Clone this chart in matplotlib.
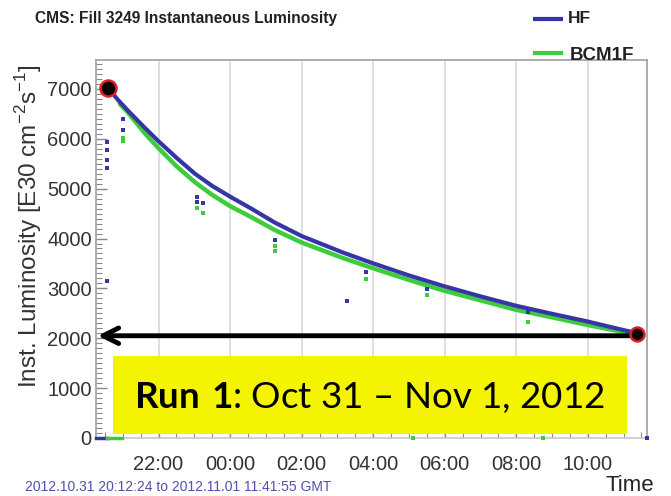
import numpy as np
import pandas as pd
import matplotlib
matplotlib.use('Agg')
import matplotlib.pyplot as plt
import matplotlib.dates as mdates
from matplotlib.lines import Line2D
from matplotlib.patches import Rectangle

plt.rcParams['mathtext.fontset'] = 'custom'
plt.rcParams['mathtext.rm'] = 'Liberation Sans'
plt.rcParams['mathtext.bf'] = 'Lato:bold'

# valori (ora GMT, luminosita' in E30 cm^-2 s^-1)
hf_ore = ['20:35', '20:52', '21:09', '21:37', '22:00', '22:31', '23:01', '23:30', '00:00', '00:37', '01:15',
          '02:00', '03:09', '03:58', '05:00', '05:57', '07:00', '08:00', '09:00', '09:58', '10:40', '11:23']
hf_lumi = [7020, 6780, 6560, 6220, 5950, 5610, 5300, 5055, 4840, 4590, 4320,
           4050, 3720, 3510, 3260, 3050, 2840, 2650, 2490, 2340, 2220, 2100]

bcm_ore = ['20:55', '21:09', '21:37', '22:00', '22:31', '23:01', '23:30', '00:00', '00:37', '01:15',
           '02:00', '03:09', '03:58', '05:00', '05:57', '07:00', '08:00', '09:00', '09:58', '10:40', '11:23']
bcm_lumi = [6700, 6520, 6110, 5810, 5440, 5130, 4875, 4650, 4420, 4170,
            3920, 3610, 3410, 3170, 2960, 2760, 2570, 2420, 2270, 2170, 2080]

# punti sparsi
hf_punti_ore = ['20:34', '20:34', '20:33', '20:34', '20:33', '21:00', '21:00', '23:05', '23:05', '23:14',
                '01:15', '03:16', '03:48', '05:30', '08:19', '11:39']
hf_punti_lumi = [5940, 5780, 5580, 5420, 3140, 6400, 6180, 4840, 4740, 4720,
                 3980, 2740, 3320, 2980, 2520, 0]
bcm_punti_ore = ['21:00', '21:00', '23:05', '23:14', '01:15', '01:15', '03:48', '05:30', '08:19', '05:07', '08:44']
bcm_punti_lumi = [6020, 5960, 4620, 4520, 3840, 3740, 3180, 2860, 2320, 0, 0]

# tratti a zero all'inizio del fill
hf_zero_ore, hf_zero_lumi = ['20:15', '20:34'], [0, 0]
bcm_zero_ore, bcm_zero_lumi = ['20:34', '20:59'], [0, 0]

inizio_ora, inizio_lumi = '20:35', 7020
fine_ora, fine_lumi = '11:23', 2080
freccia_lumi = 2050

xlim_ore = ['20:15', '11:39']
yticks = np.arange(0, 8000, 1000)


def f_tempi(lista):
    # ore >= 12 -> 31 ottobre, altrimenti 1 novembre
    out = []
    for s in lista:
        hh = int(s.split(':')[0])
        giorno = '2012-10-31' if hh >= 12 else '2012-11-01'
        out.append(pd.Timestamp(f'{giorno} {s}'))
    return out


blu = '#3535a5'
verde = '#3ccc3c'
grigio = '#333333'

fig = plt.figure(figsize=(6.71, 4.96), dpi=100)
ax = fig.add_axes([0.143, 0.117, 0.821, 0.762])

for ora in pd.date_range('2012-10-31 22:00', '2012-11-01 10:00', freq='2h'):
    ax.axvline(ora, color='#d8d8d8', lw=1.2, zorder=0)

ax.plot(f_tempi(bcm_ore), bcm_lumi, color=verde, lw=3.2, solid_capstyle='round', solid_joinstyle='round', zorder=3)
ax.plot(f_tempi(hf_ore), hf_lumi, color=blu, lw=3.0, solid_capstyle='round', solid_joinstyle='round', zorder=4)
ax.plot(f_tempi(hf_zero_ore), hf_zero_lumi, color=blu, lw=2.5, zorder=4, clip_on=False)
ax.plot(f_tempi(bcm_zero_ore), bcm_zero_lumi, color=verde, lw=2.5, zorder=4, clip_on=False)
ax.scatter(f_tempi(hf_punti_ore), hf_punti_lumi, s=6, marker='s', color=blu, lw=0, zorder=5, clip_on=False)
ax.scatter(f_tempi(bcm_punti_ore), bcm_punti_lumi, s=6, marker='s', color=verde, lw=0, zorder=5, clip_on=False)

ax.plot(f_tempi([inizio_ora]), [inizio_lumi], 'o', ms=11.5, mfc='black', mec='#e02020', mew=1.8, zorder=8, clip_on=False)
ax.plot(f_tempi([fine_ora]), [fine_lumi], 'o', ms=10, mfc='black', mec='#e02020', mew=1.8, zorder=8, clip_on=False)

xlim = f_tempi(xlim_ore)
ax.annotate('', xy=(mdates.date2num(xlim[0]) + 0.002, freccia_lumi),
            xytext=(mdates.date2num(f_tempi([fine_ora])[0]), freccia_lumi),
            arrowprops=dict(arrowstyle='->', lw=3.5, color='black', mutation_scale=28,
                            shrinkA=0, shrinkB=0), zorder=7)

# riquadro giallo
x0 = mdates.date2num(f_tempi(['20:44'])[0])
x1 = mdates.date2num(f_tempi(['11:05'])[0])
ax.add_patch(Rectangle((x0, 80), x1 - x0, 1560, facecolor='#f4f400', edgecolor='none', zorder=6))
ax.text((x0 + x1) / 2, 820, r'$\bf{Run\ 1}$: Oct 31 – Nov 1, 2012', ha='center', va='center',
        fontsize=26.5, family='Lato', color='black', zorder=7)

ax.set_xlim(xlim)
ax.set_ylim(0, 7580)
ax.set_yticks(yticks)
ax.yaxis.set_minor_locator(matplotlib.ticker.MultipleLocator(100))
ax.xaxis.set_major_locator(mdates.HourLocator(byhour=range(0, 24, 2)))
ax.xaxis.set_minor_locator(mdates.MinuteLocator(byminute=[0, 30]))
ax.xaxis.set_major_formatter(mdates.DateFormatter('%H:%M'))

ax.tick_params(axis='both', which='major', direction='in', length=8, width=1, color='#888888',
               labelsize=14.5, labelcolor=grigio)
ax.tick_params(axis='both', which='minor', direction='in', length=4, width=0.8, color='#888888')
ax.tick_params(axis='x', pad=12)
ax.tick_params(axis='y', pad=3)
for lab in ax.get_xticklabels() + ax.get_yticklabels():
    lab.set_family('Liberation Sans')

for sp in ax.spines.values():
    sp.set_color('#a0a0a0')
    sp.set_linewidth(1.2)
ax.spines['bottom'].set_color('#c8c8c8')

ax.set_ylabel(r'Inst. Luminosity [E30 cm$^{-2}$s$^{-1}$]', fontsize=17.5, color=grigio,
              family='Liberation Sans')
ax.yaxis.set_label_coords(-0.095, 0.56)

fig.text(0.052, 0.962, 'CMS: Fill 3249 Instantaneous Luminosity', fontsize=11.2, weight='bold',
         family='Liberation Sans', color='#222222', va='center')

# legenda manuale
fig.add_artist(Line2D([0.798, 0.836], [0.962, 0.962], color=blu, lw=3))
fig.text(0.846, 0.962, 'HF', fontsize=12.5, weight='bold', family='Liberation Sans', color='#222222', va='center')
fig.add_artist(Line2D([0.798, 0.836], [0.893, 0.893], color=verde, lw=3))
fig.text(0.849, 0.889, 'BCM1F', fontsize=13.5, weight='bold', family='Liberation Sans', color='#222222', va='center')

fig.text(0.037, 0.018, '2012.10.31 20:12:24 to 2012.11.01 11:41:55 GMT', fontsize=10,
         family='Liberation Sans', color='#5050b0', va='center')
fig.text(0.902, 0.022, 'Time', fontsize=16, family='Liberation Sans', color='#222222', va='center')

plt.savefig('out.png', dpi=100)
plt.close()
